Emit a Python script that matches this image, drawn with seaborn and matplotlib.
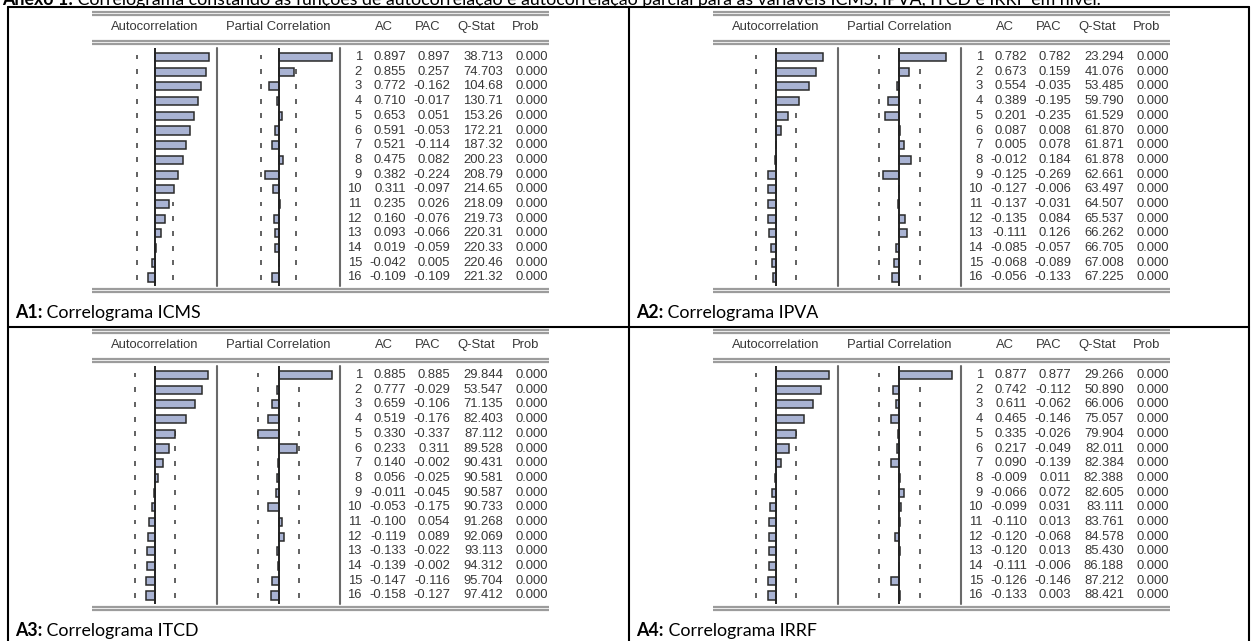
import numpy as np
import matplotlib
matplotlib.use('Agg')
import matplotlib.pyplot as plt
import seaborn as sns

W, H = 1253, 641

# Correlogram values
lags = [str(i) for i in range(1, 17)]

icms_ac = [0.897, 0.855, 0.772, 0.710, 0.653, 0.591, 0.521, 0.475,
           0.382, 0.311, 0.235, 0.160, 0.093, 0.019, -0.042, -0.109]
icms_pac = [0.897, 0.257, -0.162, -0.017, 0.051, -0.053, -0.114, 0.082,
            -0.224, -0.097, 0.026, -0.076, -0.066, -0.059, 0.005, -0.109]
icms_q = [38.713, 74.703, 104.68, 130.71, 153.26, 172.21, 187.32, 200.23,
          208.79, 214.65, 218.09, 219.73, 220.31, 220.33, 220.46, 221.32]

ipva_ac = [0.782, 0.673, 0.554, 0.389, 0.201, 0.087, 0.005, -0.012,
           -0.125, -0.127, -0.137, -0.135, -0.111, -0.085, -0.068, -0.056]
ipva_pac = [0.782, 0.159, -0.035, -0.195, -0.235, 0.008, 0.078, 0.184,
            -0.269, -0.006, -0.031, 0.084, 0.126, -0.057, -0.089, -0.133]
ipva_q = [23.294, 41.076, 53.485, 59.790, 61.529, 61.870, 61.871, 61.878,
          62.661, 63.497, 64.507, 65.537, 66.262, 66.705, 67.008, 67.225]

itcd_ac = [0.885, 0.777, 0.659, 0.519, 0.330, 0.233, 0.140, 0.056,
           -0.011, -0.053, -0.100, -0.119, -0.133, -0.139, -0.147, -0.158]
itcd_pac = [0.885, -0.029, -0.106, -0.176, -0.337, 0.311, -0.002, -0.025,
            -0.045, -0.175, 0.054, 0.089, -0.022, -0.002, -0.116, -0.127]
itcd_q = [29.844, 53.547, 71.135, 82.403, 87.112, 89.528, 90.431, 90.581,
          90.587, 90.733, 91.268, 92.069, 93.113, 94.312, 95.704, 97.412]

irrf_ac = [0.877, 0.742, 0.611, 0.465, 0.335, 0.217, 0.090, -0.009,
           -0.066, -0.099, -0.110, -0.120, -0.120, -0.111, -0.126, -0.133]
irrf_pac = [0.877, -0.112, -0.062, -0.146, -0.026, -0.049, -0.139, 0.011,
            0.072, 0.031, 0.013, -0.068, 0.013, -0.006, -0.146, 0.003]
irrf_q = [29.266, 50.890, 66.006, 75.057, 79.904, 82.011, 82.384, 82.388,
          82.605, 83.111, 83.761, 84.578, 85.430, 86.188, 87.212, 88.421]

prob = [0.0] * 16

# approx. 2/sqrt(T) confidence band
bands = [0.298, 0.338, 0.338, 0.338]
codes = ['A1', 'A2', 'A3', 'A4']
names = ['ICMS', 'IPVA', 'ITCD', 'IRRF']

title_bold = 'Anexo 1:'
title_rest = (' Correlograma constando as funções de autocorrelação e autocorrelação '
              'parcial para as variáveis ICMS, IPVA, ITCD e IRRF em nível.')

panels = [
    (icms_ac, icms_pac, icms_q),
    (ipva_ac, ipva_pac, ipva_q),
    (itcd_ac, itcd_pac, itcd_q),
    (irrf_ac, irrf_pac, irrf_q),
]
offsets = [(0, 0), (621, 0), (0, 318), (621, 318)]

sns.set_style('white')
plt.rcParams['font.family'] = ['Liberation Sans', 'DejaVu Sans']

BAR_FILL = '#a9b3d3'
BAR_EDGE = '#2a2a2a'
TXT = '#383838'
GREY = '#9c9c9c'
FS = 9.4
CAP_FS = 12.8

fig = plt.figure(figsize=(W / 100, H / 100), dpi=100)
bg = fig.add_axes([0, 0, 1, 1])
bg.set_xlim(0, W)
bg.set_ylim(H, 0)
bg.axis('off')


def px_axes(x0, y0, x1, y1):
    return fig.add_axes([x0 / W, 1 - y1 / H, (x1 - x0) / W, (y1 - y0) / H])


def rich_text(x, y, bold, rest, size, **kw):
    # bold prefix followed by regular text
    t = bg.text(x, y, bold, fontsize=size, fontweight='bold', family=['Lato', 'DejaVu Sans'],
                ha='left', **kw)
    fig.canvas.draw()
    bb = t.get_window_extent()
    x2 = bg.transData.inverted().transform((bb.x1, bb.y0))[0]
    bg.text(x2, y, rest, fontsize=size, family=['Lato', 'DejaVu Sans'], ha='left', **kw)


def double_line(x0, x1, y):
    bg.plot([x0, x1], [y, y], color=GREY, lw=1.6, solid_capstyle='butt')
    bg.plot([x0, x1], [y + 3, y + 3], color=GREY, lw=1.6, solid_capstyle='butt')


row1, sp = 57, 14.7
idx = np.arange(16)

for k, (ac, pac, q) in enumerate(panels):
    ox, oy = offsets[k]
    band = bands[k]

    double_line(92 + ox, 549 + ox, 12 + oy)
    double_line(92 + ox, 549 + ox, 41 + oy)
    double_line(92 + ox, 549 + ox, 289 + oy)

    hy = 27 + oy
    bg.text(155 + ox, hy, 'Autocorrelation', fontsize=FS, color=TXT, ha='center', va='center')
    bg.text(278 + ox, hy, 'Partial Correlation', fontsize=FS, color=TXT, ha='center', va='center')
    for lab, cx in zip(['AC', 'PAC', 'Q-Stat', 'Prob'], [384, 428, 476, 526]):
        bg.text(cx + ox, hy, lab, fontsize=FS, color=TXT, ha='center', va='center')

    y_top = row1 + oy - 0.6 * sp
    y_bot = row1 + oy + 15.6 * sp
    # separators between the columns
    for sx in [217, 340]:
        bg.plot([sx + ox, sx + ox], [y_top, y_bot], color='#6a6a6a', lw=1.5)

    for vals, (ax0, ax1) in zip([ac, pac], [(93, 217), (217, 340)]):
        ax = px_axes(ax0 + ox, y_top, ax1 + ox, y_bot)
        half = (ax1 - ax0) / 2 / 60.0
        for b in (-band, band):
            ax.vlines(np.full(16, b), idx - 0.17, idx + 0.17, color='#555555', lw=1.3, zorder=1)
        sns.barplot(x=vals, y=lags, order=lags, orient='h', ax=ax, color=BAR_FILL,
                    saturation=1, edgecolor=BAR_EDGE, linewidth=1.1, width=0.55)
        for p in ax.patches:
            p.set_zorder(3)
        ax.axvline(0, color='#222222', lw=1.4, zorder=4)
        ax.set_xlim(-half, half)
        ax.set_ylim(15.6, -0.6)
        ax.axis('off')
        ax.patch.set_alpha(0)

    for i in range(16):
        ry = row1 + oy + i * sp
        bg.text(362 + ox, ry, lags[i], fontsize=FS, color=TXT, ha='right', va='center')
        bg.text(406 + ox, ry, f'{ac[i]:.3f}', fontsize=FS, color=TXT, ha='right', va='center')
        bg.text(450 + ox, ry, f'{pac[i]:.3f}', fontsize=FS, color=TXT, ha='right', va='center')
        qs = f'{q[i]:.2f}' if q[i] >= 100 else f'{q[i]:.3f}'
        bg.text(503 + ox, ry, qs, fontsize=FS, color=TXT, ha='right', va='center')
        bg.text(548 + ox, ry, f'{prob[i]:.3f}', fontsize=FS, color=TXT, ha='right', va='center')

    rich_text(15 + ox, 313 + oy, codes[k] + ':', ' Correlograma ' + names[k], CAP_FS,
              va='center', color='black')

# table borders
lk = dict(color='black', lw=1.5)
bg.plot([8, 1249], [7, 7], **lk)
bg.plot([8, 1249], [327, 327], **lk)
for xv in [8, 629, 1249]:
    bg.plot([xv, xv], [7, H], **lk)

# heading sits partly above the top edge, as in the source page
rich_text(2, 5, title_bold, title_rest, CAP_FS, va='baseline', color='black')

fig.savefig('out.png', dpi=100)
